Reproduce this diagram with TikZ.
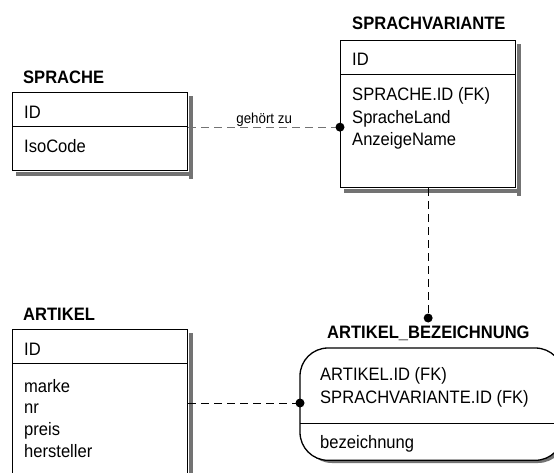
\documentclass[tikz,border=0pt]{standalone}
\usepackage{fontspec}
\setmainfont[FakeStretch=0.92]{Liberation Sans}
\usetikzlibrary{calc}
\begin{document}
\begin{tikzpicture}[x=1pt,y=-1pt,
  ebox/.style={draw=black, line width=1.3pt, fill=white, inner sep=0pt, anchor=north west},
  shadowc/.style={fill=black!55},
  etitle/.style={anchor=base west, inner sep=0pt, font=\fontsize{18}{22}\selectfont\bfseries},
  attr/.style={anchor=base west, inner sep=0pt, font=\fontsize{18}{22}\selectfont},
  divider/.style={line width=1pt},
  conn/.style={dash pattern=on 8pt off 5pt, line width=1pt},
  dotend/.style={circle, fill=black, inner sep=0pt, minimum size=9pt},
  lbl/.style={inner sep=0pt, font=\fontsize{14.5}{17}\selectfont},
]
\fill[white] (0,0) rectangle (554,472);
\useasboundingbox (0,0) rectangle (554,472);

% SPRACHE
\node[etitle] (tsprache) at (23,83) {SPRACHE};
\node[ebox, minimum width=175pt, minimum height=78pt] (sprache) at (12,92) {};
% SPRACHVARIANTE
\node[etitle] (tspvar) at (352,29) {SPRACHVARIANTE};
\node[ebox, minimum width=175pt, minimum height=147pt] (spvar) at (340,40) {};
% ARTIKEL
\node[etitle] (tartikel) at (23,320) {ARTIKEL};
\node[ebox, minimum width=175pt, minimum height=170pt] (artikel) at (12,329) {};
% ARTIKEL_BEZEICHNUNG
\node[etitle] (tab) at (327,338) {ARTIKEL\_BEZEICHNUNG};
\node[ebox, rounded corners=28pt, minimum width=262pt, minimum height=111pt] (ab) at (300,348) {};

% shadows: strips right of and below each box
\fill[shadowc] (sprache.north east) ++(0.6,4) rectangle ++(3.9,82.5);
\fill[shadowc] (sprache.south west) ++(4,0.6) rectangle ++(175.5,3.9);
\fill[shadowc] (spvar.north east) ++(0.6,4) rectangle ++(3.9,151.5);
\fill[shadowc] (spvar.south west) ++(4,0.6) rectangle ++(175.5,3.9);
\fill[shadowc] (artikel.north east) ++(0.6,4) rectangle ++(3.9,150);
\fill[shadowc, even odd rule, rounded corners=28pt]
  (304,352) rectangle (566,463) (300,348) rectangle (562,459);
% outline of the rounded box restored over the inner part of the ring
\draw[line width=1.3pt, fill=white, rounded corners=28pt] (ab.north west) rectangle (ab.south east);

% dividers
\draw[divider] (12,126.5) -- (187,126.5);
\draw[divider] (340,74) -- (515,74);
\draw[divider] (12,363) -- (187,363);
\draw[divider] (300,423) -- (562,423);

% attributes
\node[attr] (s1) at (24,118) {ID};
\node[attr] (s2) at (24,152) {IsoCode};
\node[attr] (v1) at (352,65) {ID};
\node[attr] (v2) at (352,100) {SPRACHE.ID (FK)};
\node[attr] (v3) at (352,123) {SpracheLand};
\node[attr] (v4) at (352,145.5) {AnzeigeName};
\node[attr] (a1) at (24,355) {ID};
\node[attr] (a2) at (24,392) {marke};
\node[attr] (a3) at (24,413.7) {nr};
\node[attr] (a4) at (24,435.4) {preis};
\node[attr] (a5) at (24,457) {hersteller};
\node[attr] (b1) at (320,380) {ARTIKEL.ID (FK)};
\node[attr] (b2) at (320,403) {SPRACHVARIANTE.ID (FK)};
\node[attr] (b3) at (320,448) {bezeichnung};

% connectors
\coordinate (c1) at ([yshift=4.5pt]sprache.east);
\draw[conn, draw=black!55] (c1) -- (c1 -| spvar.west)
  node[lbl, midway, anchor=south, yshift=0.5pt] (lgz) {gehört zu};
\node[dotend] (d1) at (c1 -| spvar.west) {};

\coordinate (c2) at (spvar.south |- 0,318);
\draw[conn] (spvar.south) -- (c2);
\node[dotend] (d2) at (c2) {};

\coordinate (c3) at ([yshift=-74pt]artikel.north east);
\draw[conn] (c3) -- (c3 -| ab.west);
\node[dotend] (d3) at (c3 -| ab.west) {};
\end{tikzpicture}
\end{document}
